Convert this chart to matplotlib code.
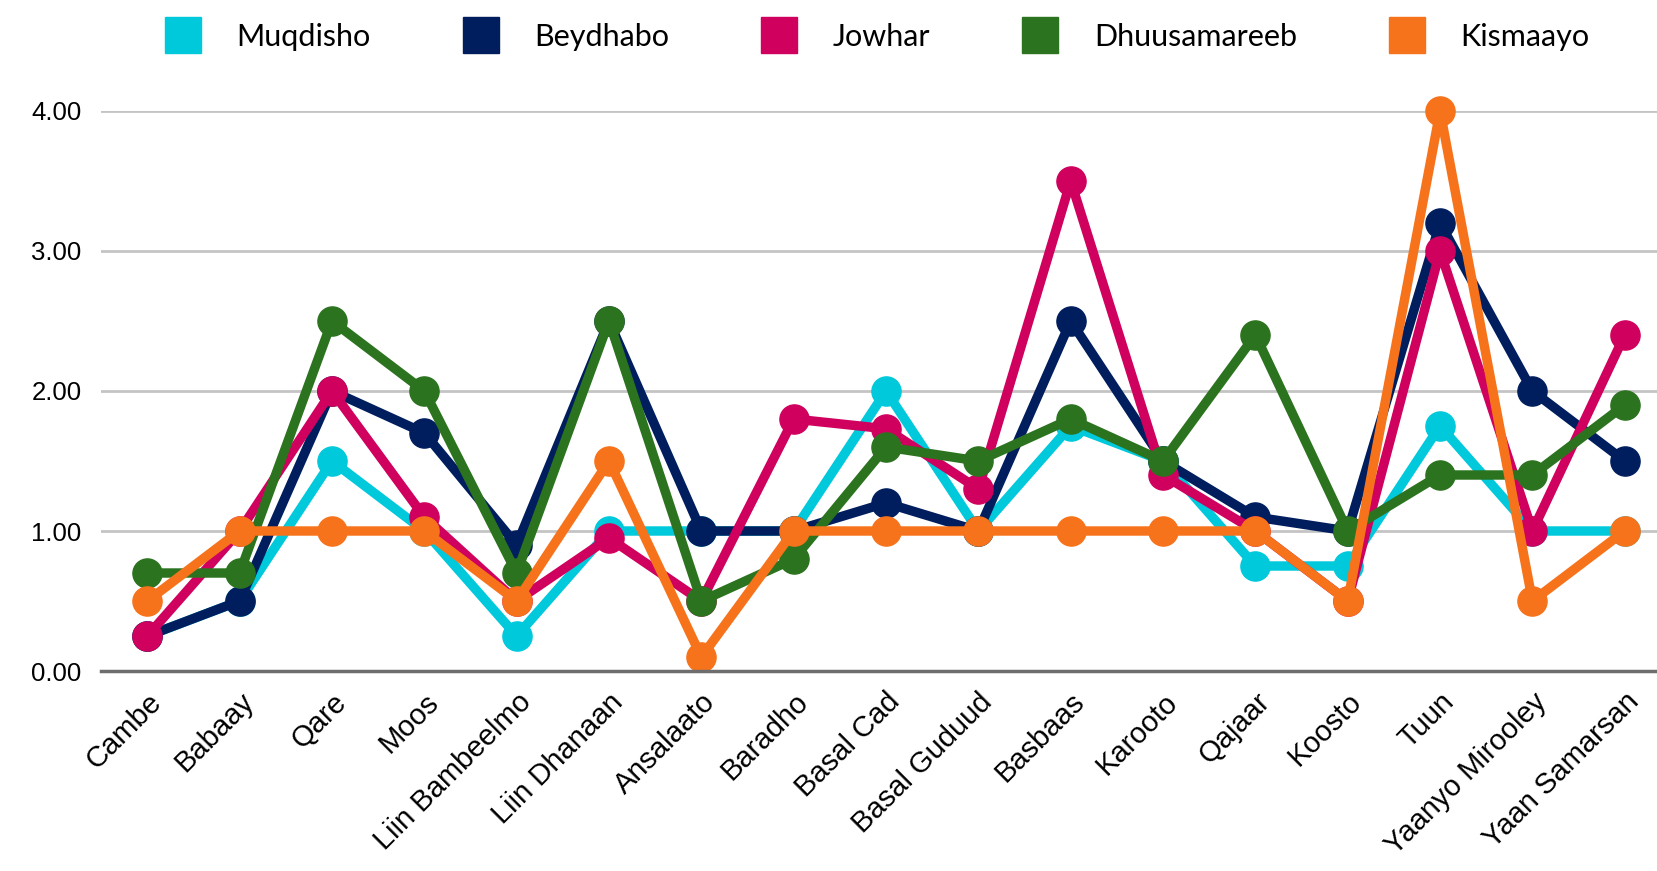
import matplotlib.pyplot as plt
from matplotlib.lines import Line2D

# Categories along the x axis
places = ["Cambe", "Babaay", "Qare", "Moos", "Liin Bambeelmo", "Liin Dhanaan",
          "Ansalaato", "Baradho", "Basal Cad", "Basal Guduud", "Basbaas",
          "Karooto", "Qajaar", "Koosto", "Tuun", "Yaanyo Mirooley", "Yaan Samarsan"]

# Values per city
muqdisho = [0.25, 0.5, 1.5, 1.0, 0.25, 1.0, 1.0, 1.0, 2.0, 1.0, 1.75, 1.5, 0.75, 0.75, 1.75, 1.0, 1.0]
beydhabo = [0.25, 0.5, 2.0, 1.7, 0.9, 2.5, 1.0, 1.0, 1.2, 1.0, 2.5, 1.5, 1.1, 1.0, 3.2, 2.0, 1.5]
jowhar = [0.25, 1.0, 2.0, 1.1, 0.5, 0.95, 0.5, 1.8, 1.73, 1.3, 3.5, 1.4, 1.0, 0.5, 3.0, 1.0, 2.4]
dhuusamareeb = [0.7, 0.7, 2.5, 2.0, 0.7, 2.5, 0.5, 0.8, 1.6, 1.5, 1.8, 1.5, 2.4, 1.0, 1.4, 1.4, 1.9]
kismaayo = [0.5, 1.0, 1.0, 1.0, 0.5, 1.5, 0.1, 1.0, 1.0, 1.0, 1.0, 1.0, 1.0, 0.5, 4.0, 0.5, 1.0]

names = ["Muqdisho", "Beydhabo", "Jowhar", "Dhuusamareeb", "Kismaayo"]
series = [muqdisho, beydhabo, jowhar, dhuusamareeb, kismaayo]
colors = ["#00C9DB", "#001E5E", "#D0005E", "#2C731F", "#F7731B"]

fig = plt.figure(figsize=(16.58, 8.71), dpi=100)
ax = fig.add_axes([0.061, 0.2296, 0.939, 0.643])

x = list(range(len(places)))
for vals, col, name in zip(series, colors, names):
    ax.plot(x, vals, color=col, linewidth=6.8, marker="o", markersize=21,
            label=name, clip_on=False, solid_joinstyle="round")

ax.set_xlim(-0.5, 16.36)
ax.set_ylim(0, 4)
ax.set_yticks([0, 1, 2, 3, 4])
ax.set_yticklabels(["0.00", "1.00", "2.00", "3.00", "4.00"],
                   fontsize=18.5, family="Liberation Sans")
ax.set_xticks(x)
ax.set_xticklabels(places, rotation=45, ha="right", rotation_mode="anchor",
                   fontsize=21, family="Liberation Sans")
ax.tick_params(length=0, pad=14)
ax.tick_params(axis="x", pad=12)

ax.grid(axis="y", color="#c4c4c4", linewidth=2)
ax.set_axisbelow(True)
for s in ["top", "right", "left"]:
    ax.spines[s].set_visible(False)
ax.spines["bottom"].set_color("#6e6e6e")
ax.spines["bottom"].set_linewidth(2.5)

# Legend with square swatches
handles = [Line2D([], [], linestyle="none", marker="s", markersize=26,
                  markerfacecolor=c, markeredgecolor=c) for c in colors]
fig.legend(handles, names, loc="center", bbox_to_anchor=(0.529, 0.9575), ncol=5,
           frameon=False, prop={"family": "Lato", "size": 22},
           handlelength=1.2, handletextpad=1.15, columnspacing=3.0)

fig.savefig("out.png", dpi=100)
